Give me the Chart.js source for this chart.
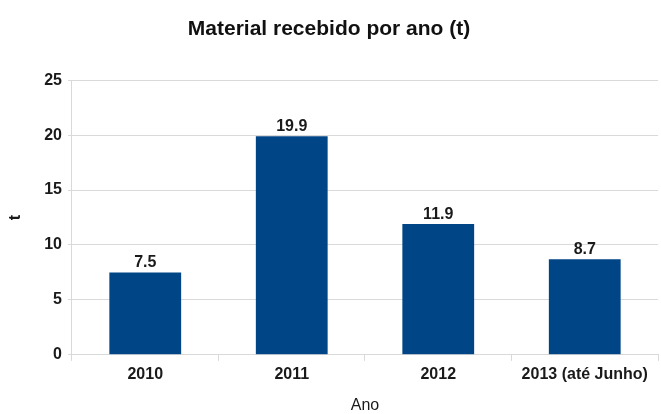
<!DOCTYPE html>
<html>
<head>
<meta charset="utf-8">
<script src="https://cdn.jsdelivr.net/npm/chart.js@4/dist/chart.umd.min.js"></script>
<style>
  html, body { margin: 0; padding: 0; background: #fff; }
  #wrap { width: 661px; height: 414px; }
</style>
</head>
<body>
<div id="wrap"><canvas id="myChart" width="661" height="414"></canvas></div>
<script>
const anos = ['2010', '2011', '2012', '2013 (até Junho)'];
const toneladas = [7.5, 19.9, 11.9, 8.7];
const yTicks = [0, 5, 10, 15, 20, 25];

// labels above each bar
const valueLabels = {
    id: 'valueLabels',
    afterDatasetsDraw(chart) {
        const ctx = chart.ctx;
        const meta = chart.getDatasetMeta(0);
        ctx.save();
        ctx.font = 'bold 16px "Liberation Sans", Arial, sans-serif';
        ctx.fillStyle = '#1a1a1a';
        ctx.textAlign = 'center';
        ctx.textBaseline = 'alphabetic';
        meta.data.forEach((bar, i) => {
            ctx.fillText(String(toneladas[i]), bar.x, bar.y - 5);
        });
        ctx.restore();
    }
};

const gridColor = '#d9d9d9';
const fontBase = { family: '"Liberation Sans", Arial, sans-serif', size: 16, weight: 'bold' };

var ctx = document.getElementById('myChart').getContext('2d');
var chart = new Chart(ctx, {
    type: 'bar',
    data: {
        labels: anos,
        datasets: [{
            label: 't',
            data: toneladas,
            backgroundColor: '#004586',
            borderColor: '#004586',
            borderWidth: 0,
            categoryPercentage: 1,
            barPercentage: 0.49
        }]
    },
    options: {
        responsive: false,
        animation: false,
        layout: { padding: { left: 0, right: 3, top: 13, bottom: 0 } },
        plugins: {
            legend: { display: false },
            tooltip: { enabled: false },
            title: {
                display: true,
                text: 'Material recebido por ano (t)',
                color: '#111',
                font: { family: fontBase.family, size: 21, weight: 'bold' },
                padding: { top: 4, bottom: 38 }
            }
        },
        scales: {
            x: {
                offset: true,
                grid: {
                    offset: true,
                    drawOnChartArea: false,
                    color: gridColor,
                    tickLength: 6
                },
                border: { color: gridColor },
                ticks: { color: '#1a1a1a', font: fontBase, padding: 4, maxRotation: 0 },
                title: {
                    display: true,
                    text: 'Ano',
                    color: '#1a1a1a',
                    font: { family: fontBase.family, size: 16, lineHeight: 1 },
                    padding: { top: 10, bottom: 0 }
                }
            },
            y: {
                min: 0,
                max: 25,
                afterBuildTicks(axis) {
                    axis.ticks = yTicks.map(v => ({ value: v }));
                },
                grid: { color: gridColor, tickLength: 4 },
                border: { color: gridColor },
                ticks: { color: '#1a1a1a', font: fontBase, padding: 6 },
                title: {
                    display: true,
                    text: 't',
                    color: '#1a1a1a',
                    font: { family: fontBase.family, size: 16, weight: 'bold' },
                    padding: { top: 6, bottom: 13 }
                }
            }
        }
    },
    plugins: [valueLabels]
});
</script>
</body>
</html>
